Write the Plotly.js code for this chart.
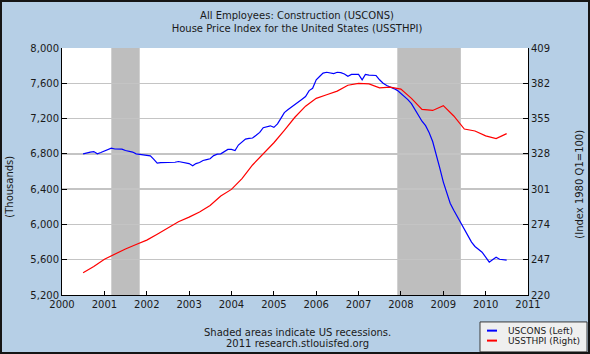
<!DOCTYPE html>
<html>
<head>
<meta charset="utf-8">
<script src="https://cdn.plot.ly/plotly-3.0.1.min.js"></script>
<style>
  html, body { margin: 0; padding: 0; background: #b6cfe6; }
  #wrap { position: relative; width: 590px; height: 354px; }
  #chart { width: 590px; height: 354px; }
  #frame { position: absolute; left: 0; top: 0; width: 590px; height: 354px; box-sizing: border-box; border: 2px solid #151515; pointer-events: none; }
</style>
</head>
<body>
<div id="wrap"><div id="chart"></div><div id="frame"></div></div>
<script>
// ---- Data ----
const titleLines = ["All Employees: Construction (USCONS)", "House Price Index for the United States (USSTHPI)"];
const seriesNames = ["USCONS (Left)", "USSTHPI (Right)"];
const leftAxisTitle = "(Thousands)";
const rightAxisTitle = "(Index 1980 Q1=100)";
const notes = ["Shaded areas indicate US recessions.", "2011 research.stlouisfed.org"];

// USCONS monthly, Jul 2000 .. Jul 2010 (thousands)
const usconsStart = [2000, 7];
const uscons = [
  6800, 6812, 6819, 6826, 6800, 6815,
  6834, 6850, 6864, 6855, 6853, 6853, 6838, 6830, 6820, 6800, 6795, 6790,
  6785, 6778, 6740, 6694, 6700, 6702, 6702, 6700, 6705, 6713, 6708, 6702,
  6690, 6664, 6690, 6702, 6725, 6735, 6745, 6780, 6796, 6800, 6830, 6850,
  6850, 6838, 6900, 6935, 6967, 6975, 6980, 7010, 7043, 7096, 7105, 7118,
  7100, 7140, 7200, 7268, 7300, 7330, 7355, 7380, 7420, 7450, 7517, 7543,
  7640, 7680, 7715, 7725, 7720, 7710, 7725, 7720, 7706, 7680, 7700, 7700,
  7700, 7638, 7700, 7692, 7690, 7688, 7640, 7600, 7574, 7560, 7540, 7520,
  7485, 7445, 7415, 7370, 7300, 7234, 7170, 7120, 7040, 6940, 6800, 6640,
  6480, 6350, 6240, 6160, 6090, 6010, 5950, 5870, 5800, 5750, 5720, 5685,
  5630, 5572, 5600, 5629, 5605, 5598, 5595
];

// USSTHPI quarterly, 2000 Q3 .. 2010 Q3 (index 1980 Q1 = 100)
const hpiStart = [2000, 7];
const usstHpi = [
  237.0, 241.8,
  247.4, 251.5, 255.2, 258.6,
  262.0, 266.5, 271.5, 276.0,
  279.6, 283.5, 288.5, 295.8,
  300.8, 309.0, 319.5, 328.0,
  336.5, 346.0, 356.0, 364.5,
  370.5, 373.2, 376.0, 380.5,
  382.0, 381.5, 378.5, 379.0,
  377.5, 370.5, 362.0, 361.2,
  364.9, 357.0, 347.0, 345.5,
  341.8, 339.7, 343.5
];

const recessions = [["2001-03-01", "2001-11-01"], ["2007-12-01", "2009-06-01"]];

const leftRange = [5200, 8000];
const leftStep = 400;
const rightRange = [220, 409];
const rightStep = 27;
const xRange = ["2000-01-01", "2011-01-01"];

// ---- Helpers ----
function dateSeries(start, n, stepMonths) {
  const out = [];
  let y = start[0], m = start[1];
  for (let i = 0; i < n; i++) {
    out.push(y + "-" + String(m).padStart(2, "0") + "-01");
    m += stepMonths;
    while (m > 12) { m -= 12; y += 1; }
  }
  return out;
}

const W = 590, H = 354;
const M = { l: 62, r: 62, t: 47.5, b: 59 };
const plotW = W - M.l - M.r, plotH = H - M.t - M.b;
const px2x = px => (px - M.l) / plotW;
const py2y = py => (H - M.b - py) / plotH;

const font = "DejaVu Sans, Verdana, sans-serif";
const txt = "#1a1a1a";

const traces = [
  { x: dateSeries(usconsStart, uscons.length, 1), y: uscons, name: seriesNames[0],
    type: "scatter", mode: "lines", line: { color: "#0000ff", width: 1.2 }, yaxis: "y" },
  { x: dateSeries(hpiStart, usstHpi.length, 3), y: usstHpi, name: seriesNames[1],
    type: "scatter", mode: "lines", line: { color: "#ff0000", width: 1.2 }, yaxis: "y2" }
];

const shapes = recessions.map(r => ({
  type: "rect", xref: "x", yref: "paper", x0: r[0], x1: r[1], y0: 0, y1: 1,
  fillcolor: "#bebebe", line: { width: 0 }, layer: "between"
}));

// legend box (custom, compact line keys)
const lg = { x0: 480, x1: 587, y0: 322, y1: 352 };
shapes.push({ type: "rect", xref: "paper", yref: "paper",
  x0: px2x(lg.x0), x1: px2x(lg.x1), y0: py2y(lg.y1), y1: py2y(lg.y0),
  fillcolor: "#efefef", line: { color: "#3a3a3a", width: 1 }, layer: "above" });
const keyColors = ["#0000ff", "#ff0000"];
const keyY = [330.7, 340.7];
keyColors.forEach((c, i) => {
  shapes.push({ type: "line", xref: "paper", yref: "paper",
    x0: px2x(487), x1: px2x(497), y0: py2y(keyY[i]), y1: py2y(keyY[i]),
    line: { color: c, width: 2 }, layer: "above" });
});

const annotations = [];
seriesNames.forEach((s, i) => {
  annotations.push({ text: s, xref: "paper", yref: "paper", x: px2x(506), y: py2y(keyY[i]),
    xanchor: "left", yanchor: "middle", showarrow: false, font: { family: font, size: 9, color: txt } });
});
annotations.push({ text: leftAxisTitle, xref: "paper", yref: "paper", x: px2x(10), y: py2y(186.5),
  xanchor: "center", yanchor: "middle", textangle: -90, showarrow: false, font: { family: font, size: 10, color: txt } });
annotations.push({ text: rightAxisTitle, xref: "paper", yref: "paper", x: px2x(580), y: py2y(184.5),
  xanchor: "center", yanchor: "middle", textangle: -90, showarrow: false, font: { family: font, size: 10, color: txt } });
annotations.push({ text: notes[0], xref: "paper", yref: "paper", x: px2x(297), y: py2y(332.7),
  xanchor: "center", yanchor: "middle", showarrow: false, font: { family: font, size: 10, color: txt } });
annotations.push({ text: notes[1], xref: "paper", yref: "paper", x: px2x(297), y: py2y(344),
  xanchor: "center", yanchor: "middle", showarrow: false, font: { family: font, size: 10, color: txt } });

const layout = {
  width: W, height: H,
  margin: M,
  paper_bgcolor: "#b6cfe6",
  plot_bgcolor: "#ffffff",
  showlegend: false,
  font: { family: font, size: 10, color: txt },
  title: { text: titleLines.join("<br>"), xref: "container", yref: "container",
    x: 297 / W, y: 1 - 18.7 / H, xanchor: "center", yanchor: "middle",
    font: { family: font, size: 10, color: txt } },
  xaxis: {
    type: "date", range: xRange, dtick: "M12", tick0: "2000-01-01", tickformat: "%Y",
    ticks: "inside", ticklen: 4, tickcolor: "#000", showline: true, linecolor: "#000", linewidth: 1,
    showgrid: false, zeroline: false, tickfont: { family: font, size: 10, color: txt }
  },
  yaxis: {
    range: leftRange, dtick: leftStep, tick0: leftRange[0], tickformat: ",d",
    ticks: "inside", ticklen: 5, tickcolor: "#000", showline: true, linecolor: "#000", linewidth: 1,
    showgrid: true, gridcolor: "#c4c4c4", gridwidth: 1.5, zeroline: false,
    tickfont: { family: font, size: 10, color: txt }
  },
  yaxis2: {
    overlaying: "y", side: "right", range: rightRange, dtick: rightStep, tick0: rightRange[0],
    ticks: "inside", ticklen: 5, tickcolor: "#000", showline: true, linecolor: "#000", linewidth: 1,
    showgrid: false, zeroline: false, tickfont: { family: font, size: 10, color: txt }
  },
  shapes: shapes,
  annotations: annotations
};

Plotly.newPlot("chart", traces, layout, { staticPlot: true, displayModeBar: false });
</script>
</body>
</html>
